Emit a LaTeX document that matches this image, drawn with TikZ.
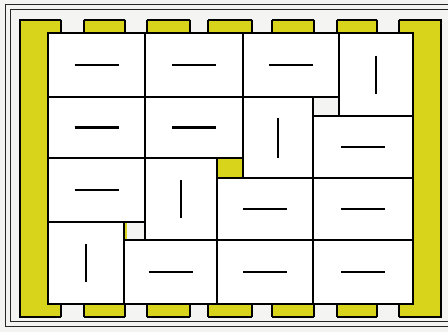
\documentclass[tikz,border=0pt]{standalone}
\usepackage{tikz}
\definecolor{wallyel}{HTML}{D8D41C}
\definecolor{paper}{HTML}{F4F4F2}
\tikzset{
  tile/.style={fill=white, draw=black, line width=0.75pt},
  wall/.style={fill=wallyel, draw=black, line width=0.75pt},
  hole/.style={fill=paper, draw=black, line width=0.75pt},
  frameline/.style={draw=black!85, line width=0.7pt},
  seam/.style={line width=#1, line cap=butt},
  seam/.default=0.7pt
}

\begin{document}
\begin{tikzpicture}[x=0.5pt, y=-0.5pt]
  \useasboundingbox (0,0) rectangle (448,332);
  \fill[paper] (0,0) rectangle (448,332);
  % double frame, open to the right
  \draw[frameline] (448,4.5) -- (5.5,4.5) -- (5.5,326.5) -- (448,326.5);
  \draw[frameline] (448,9.5) -- (10.5,9.5) -- (10.5,321.5) -- (448,321.5);
  % yellow wall with notches top and bottom
  \filldraw[wall] (20,20) rectangle (441,317);
  \foreach \a/\b in {61/84, 125/147, 190/208, 252/272, 314/337, 377/399} {
    \fill[paper] (\a,19) rectangle (\b,33);
    \fill[paper] (\a,304) rectangle (\b,318);
    \draw[line width=0.75pt] (\a,19.6) -- (\a,33) (\b,19.6) -- (\b,33);
    \draw[line width=0.75pt] (\a,304) -- (\a,317.4) (\b,304) -- (\b,317.4);
  }
  % room floor and open spots
  \fill[white] (48,33) rectangle (413,304);
  \filldraw[hole] (313,97) rectangle (339,116);
  \filldraw[hole] (124,222) rectangle (145,240);
  \fill[wallyel] (124.4,222.4) rectangle (126.6,239.6);
  \filldraw[wall] (217,158) rectangle (243,178);
  % panels: x1/y1/x2/y2/half dash x/half dash y/dash width
  \foreach \xa/\ya/\xb/\yb/\dx/\dy/\w in {
      48/33/145/97/22/0/0.7pt, 145/33/243/97/22/0/0.7pt,
      243/33/339/97/22/0/0.7pt, 339/33/413/116/0/19/0.7pt,
      48/97/145/158/22/0/1.3pt, 145/97/243/158/22/0/1.3pt,
      243/97/313/178/0/20/0.7pt, 313/116/413/178/22/0/0.7pt,
      48/158/145/222/22/0/0.7pt, 145/158/217/240/0/19/0.7pt,
      217/178/313/240/22/0/0.7pt, 313/178/413/240/22/0/0.7pt,
      48/222/124/304/0/19/0.7pt, 124/240/217/304/22/0/0.7pt,
      217/240/313/304/22/0/0.7pt, 313/240/413/304/22/0/0.7pt} {
    \filldraw[tile] (\xa,\ya) rectangle (\xb,\yb);
    \draw[seam=\w] ({(\xa+\xb)/2-\dx},{(\ya+\yb)/2-\dy})
      -- ({(\xa+\xb)/2+\dx},{(\ya+\yb)/2+\dy});
  }
\end{tikzpicture}
\end{document}
